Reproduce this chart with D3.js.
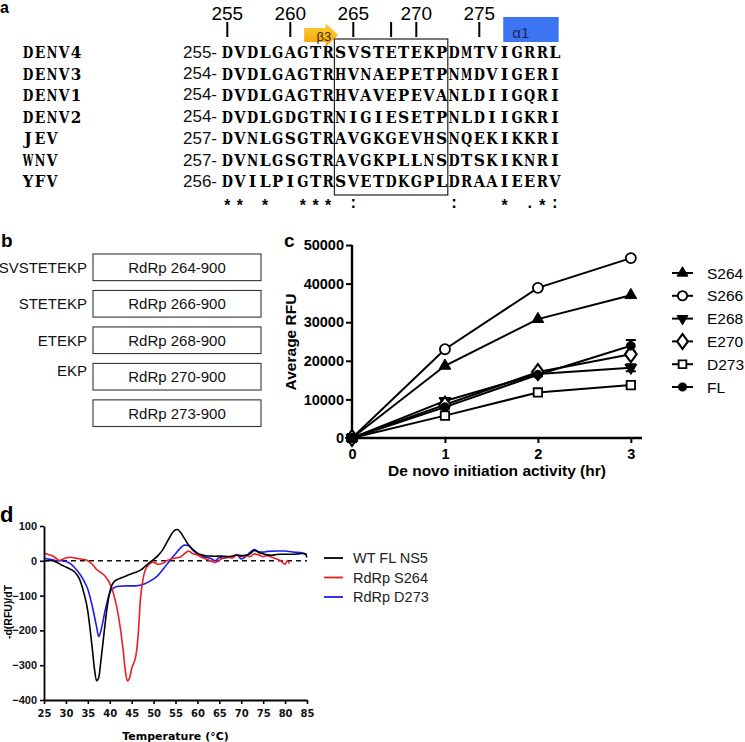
<!DOCTYPE html>
<html><head><meta charset="utf-8">
<script src="https://cdn.jsdelivr.net/npm/d3@7"></script>
<style>
html,body{margin:0;padding:0;background:#fff;}
svg{display:block;}
</style></head>
<body>
<svg id="fig" width="745" height="742"></svg>
<script>
// ---------- Panel a data ----------
const seqNames = ["DENV4","DENV3","DENV1","DENV2","JEV","WNV","YFV"];
const seqStarts = ["255-","254-","254-","254-","257-","257-","256-"];
const sequences = [
  "DVDLGAGTRSVSTETEKPDMTVIGRRL",
  "DVDLGAGTRHVNAEPETPNMDVIGERI",
  "DVDLGAGTRHVAVEPEVANLDIIGQRI",
  "DVDLGDGTRNIGIESETPNLDIIGKRI",
  "DVNLGSGTRAVGKGEVHSNQEKIKKRI",
  "DVNLGSGTRAVGKPLLNSDTSKIKNRI",
  "DVILPIGTRSVETDKGPLDRAAIEERV"
];
const conservation = "** *  *** :       :   * .*:";
const firstResidue = 255;
const tickPositions = [255,260,265,268,270,275];
const tickLabels = ["255","260","265","","270","275"];

// ---------- Panel b data ----------
const constructPrefixes = ["SVSTETEKP","STETEKP","ETEKP","EKP",""];
const constructNames = ["RdRp 264-900","RdRp 266-900","RdRp 268-900","RdRp 270-900","RdRp 273-900"];

// ---------- Panel c data ----------
const hours = [0,1,2,3];
const seriesNames = ["S264","S266","E268","E270","D273","FL"];
const s264 = [0,18700,30800,37000];
const s266 = [0,23000,38900,46600];
const e268 = [0,9600,16600,18200];
const e270 = [0,8600,17100,21700];
const d273 = [0,5800,11800,13700];
const fl   = [0,8000,16400,23900];
const e268Err = [0,500,500,900];
const e270Err = [0,300,400,500];
const d273Err = [0,300,800,400];
const flErr   = [0,400,400,1500];
const cYTicks = [0,10000,20000,30000,40000,50000];
const cXTicks = [0,1,2,3];

// ---------- Panel d data ----------
const dLegend = ["WT FL NS5","RdRp S264","RdRp D273"];
const wtFL = [[25,0],[26,1],[27,0],[28,-5],[29,-12],[30,-18],[31,-24],[32,-32],[33,-50],[34,-88],[35,-145],[35.5,-195],[36,-250],[36.5,-310],[37,-345],[37.5,-335],[38,-285],[38.5,-230],[39,-175],[39.5,-125],[40,-90],[40.5,-70],[41,-60],[42,-52],[43,-47],[44,-42],[45,-37],[46,-33],[47,-27],[48,-17],[49,-6],[50,4],[51,15],[52,30],[53,52],[54,75],[55,89],[55.5,90],[56,84],[57,65],[58,45],[59,32],[60,22],[61,17],[62,14],[63,14],[64,13],[65,14],[66,13],[67,12],[68,14],[69,16],[70,15],[71,16],[72,20],[73,30],[73.5,28],[74,24],[75,20],[76,17],[77,16],[78,18],[79,19],[80,19],[81,19],[82,19],[83,20],[84,21],[84.5,20],[85,10]];
const rdS264 = [[25,22],[26,18],[27,14],[28,5],[28.5,1],[29,3],[30,8],[31,10],[32,8],[33,6],[34,4],[35,0],[36,-10],[37,-25],[38,-34],[39,-45],[40,-65],[41,-100],[42,-160],[43,-250],[43.5,-310],[44,-345],[44.5,-338],[45,-310],[46,-270],[46.5,-210],[47,-110],[47.5,-60],[48,-30],[49,-10],[50,-4],[51,-10],[52,-8],[53,0],[54,5],[55,8],[56,10],[57,20],[58,28],[59,20],[60,17],[61,10],[62,5],[63,0],[64,-5],[65,2],[66,8],[67,10],[68,8],[69,18],[70,12],[71,15],[72,12],[73,20],[74,17],[75,12],[76,15],[77,10],[78,6],[79,0],[80,-10],[80.5,0],[81,-8]];
const rdD273 = [[25,8],[26,5],[27,3],[28,0],[29,0],[30,-2],[31,-8],[32,-20],[33,-35],[34,-55],[35,-82],[36,-130],[37,-190],[37.5,-218],[38,-200],[39,-140],[40,-92],[41,-77],[42,-73],[44,-72],[46,-72],[48,-66],[50,-52],[51,-42],[52,-27],[53,-11],[54,5],[55,20],[56,35],[57,45],[58,44],[59,30],[60,20],[61,12],[62,10],[63,7],[64,0],[65,9],[66,8],[67,10],[68,12],[69,18],[70,5],[71,12],[72,24],[73,32],[74,26],[75,25],[76,27],[78,28],[80,28],[82,25],[84,22],[85,19]];
const dXTicks = d3.range(25,86,5);
const dYTicks = [100,0,-100,-200,-300,-400];

const svg = d3.select("#fig");
const ARIAL = "Liberation Sans, Arial, Helvetica, sans-serif";
const SERIF = "DejaVu Serif, Liberation Serif, serif";

// panel letters
function panelLetter(t,x,y,size){
  svg.append("text").attr("x",x).attr("y",y).text(t)
    .attr("font-family",ARIAL).attr("font-weight","bold").attr("font-size",size);
}
panelLetter("a",0,13,16);
panelLetter("b",1,247,19);
panelLetter("c",284,247,19);
panelLetter("d",0,522,22);

// fixed-pitch glyph writer (Courier-like alignment); wide glyphs squeezed horizontally
function glyph(g,c,cx,y,size,maxW){
  const t = g.append("text").attr("x",0).attr("y",0).attr("text-anchor","middle").text(c)
    .attr("font-family",SERIF).attr("font-weight","bold").attr("font-size",size);
  const w = t.node().getComputedTextLength();
  const sx = w>maxW ? maxW/w : 1;
  t.attr("transform",`translate(${cx},${y}) scale(${sx},1)`);
  return t;
}

// ================= Panel a =================
(function(){
  const nCols = sequences[0].length;
  const col = d3.scaleLinear().domain([0,nCols]).range([221, 221+nCols*12.6]);
  const cw = col(1)-col(0);
  const row = d3.scaleLinear().domain([0,6]).range([58,187]);
  const g = svg.append("g");

  // alpha1 helix box
  g.append("rect").attr("x",col(22.4)).attr("y",17).attr("width",col(26.8)-col(22.4)).attr("height",25)
    .attr("fill","#3d74f2");
  g.append("text").attr("x",col(22.4)+9).attr("y",38).text("α1")
    .attr("font-family",ARIAL).attr("font-size",15).attr("fill","#1b1f5e");

  // beta3 arrow
  const defs = svg.append("defs");
  const gr = defs.append("linearGradient").attr("id","orange").attr("x1",0).attr("y1",0).attr("x2",0).attr("y2",1);
  gr.append("stop").attr("offset","0%").attr("stop-color","#ffcf3d");
  gr.append("stop").attr("offset","100%").attr("stop-color","#f0a300");
  const ax0 = col(6.6), ax1 = col(8.3), ax2 = col(9.3);
  g.append("path").attr("d",`M${ax0},28 L${ax1},28 L${ax1},23 L${ax2},35 L${ax1},47 L${ax1},42 L${ax0},42 Z`)
    .attr("fill","url(#orange)");
  g.append("text").attr("x",col(7.5)+1).attr("y",41).text("β3")
    .attr("font-family",ARIAL).attr("font-size",13).attr("fill","#3a2a00");

  // position ticks
  tickPositions.forEach((p,i)=>{
    const cx = col(p-firstResidue)+cw/2;
    g.append("line").attr("x1",cx).attr("x2",cx).attr("y1",22).attr("y2",37)
      .attr("stroke","#000").attr("stroke-width",2);
    if(tickLabels[i]) g.append("text").attr("x",cx).attr("y",20).attr("text-anchor","middle")
      .text(tickLabels[i]).attr("font-family",ARIAL).attr("font-size",19);
  });

  // box around 264-272 region
  g.append("rect").attr("x",col(9)).attr("y",39).attr("width",col(18)-col(9)).attr("height",156)
    .attr("fill","none").attr("stroke","#222").attr("stroke-width",1.2);

  seqNames.forEach((n,i)=>{
    const y = row(i);
    n.split("").forEach((c,j)=>glyph(g,c,22+6+j*12,y,16,10.6));
    g.append("text").attr("x",217).attr("y",y-(i>=1&&i<=3?1:0)).attr("text-anchor","end").text(seqStarts[i])
      .attr("font-family",ARIAL).attr("font-size",17).attr("fill","#111");
    sequences[i].split("").forEach((c,j)=>glyph(g,c,col(j)+cw/2,y,16,11.2));
  });
  conservation.split("").forEach((c,j)=>{
    if(c===" ") return;
    g.append("text").attr("x",col(j)+cw/2).attr("y",c==="*"?211:208).attr("text-anchor","middle").text(c)
      .attr("font-family","Liberation Mono, monospace").attr("font-weight","bold").attr("font-size",16);
  });
})();

// ================= Panel b =================
(function(){
  const g = svg.append("g");
  const rows = d3.scaleBand().domain(d3.range(constructNames.length)).range([254, 254+5*34.5]).paddingInner(0.27).paddingOuter(0);
  const xb0 = 93, xb1 = 261;
  constructNames.forEach((n,i)=>{
    const y = rows(i), h = rows.bandwidth();
    g.append("rect").attr("x",xb0).attr("y",y).attr("width",xb1-xb0).attr("height",h)
      .attr("fill","#fff").attr("stroke","#333").attr("stroke-width",1.1);
    g.append("text").attr("x",(xb0+xb1)/2).attr("y",y+h/2+5.5).attr("text-anchor","middle").text(n)
      .attr("font-family",ARIAL).attr("font-size",15).attr("fill","#111");
    if(constructPrefixes[i]) g.append("text").attr("x",87).attr("y",y+h/2+5.5-(i===3?6:0)).attr("text-anchor","end")
      .text(constructPrefixes[i]).attr("font-family",ARIAL).attr("font-size",15).attr("fill","#111");
  });
})();

// ================= Panel c =================
(function(){
  const g = svg.append("g");
  const x = d3.scaleLinear().domain([0,3.12]).range([352,642]);
  const y = d3.scaleLinear().domain([0,50000]).range([438,245]);
  const all = [s264,s266,e268,e270,d273,fl];
  const errs = [null,null,e268Err,e270Err,d273Err,flErr];
  const shapes = [d3.symbolTriangle,d3.symbolCircle,"down",d3.symbolDiamond,d3.symbolSquare,d3.symbolCircle];
  const filled = [true,false,true,false,false,true];
  const sizes = [60,80,60,75,70,60];

  function marker(sel,i,cx,cy,scale){
    const s = scale||1;
    const sh = shapes[i];
    let p;
    if(sh==="down"){
      p = sel.append("path").attr("d",d3.symbol(d3.symbolTriangle,sizes[i]*s)())
        .attr("transform",`translate(${cx},${cy}) rotate(180)`);
    } else {
      const dm = sh===d3.symbolDiamond;
      p = sel.append("path").attr("d",d3.symbol(sh,sizes[i]*s)())
        .attr("transform",`translate(${cx},${cy})`+(dm?" scale(1.25,1)":""));
    }
    p.attr("fill",filled[i]?"#000":"#fff").attr("stroke","#000").attr("stroke-width",filled[i]?1:1.8);
  }

  // axes
  const yAxis = d3.axisLeft(y).tickValues(cYTicks).tickSize(6).tickFormat(d3.format("d"));
  const ya = g.append("g").attr("transform",`translate(${x(0)},0)`).call(yAxis);
  const xAxis = d3.axisBottom(x).tickValues(cXTicks).tickSize(5).tickFormat(d3.format("d"));
  const xa = g.append("g").attr("transform",`translate(0,${y(0)})`).call(xAxis);
  [ya,xa].forEach(a=>{
    a.select(".domain").attr("stroke","#000").attr("stroke-width",2.4);
    a.selectAll(".tick line").attr("stroke","#000").attr("stroke-width",2);
    a.selectAll("text").attr("font-family",ARIAL).attr("font-weight","bold").attr("font-size",14.5).attr("fill","#000");
  });
  ya.select(".domain").attr("d",`M-0,${y(50000)}V${y(0)}`);
  xa.select(".domain").attr("d",`M${x(0)},0H${x(3.12)}`);
  xa.selectAll("text").attr("dy","0.9em");
  ya.selectAll("text").attr("x",-8);

  g.append("text").attr("transform",`translate(296,342) rotate(-90)`).attr("text-anchor","middle")
    .text("Average RFU").attr("font-family",ARIAL).attr("font-weight","bold").attr("font-size",15.5);
  g.append("text").attr("x",(x(0)+x(3.12))/2).attr("y",476).attr("text-anchor","middle")
    .text("De novo initiation activity (hr)").attr("font-family",ARIAL).attr("font-weight","bold").attr("font-size",15.5);

  const line = d3.line().x((d,i)=>x(hours[i])).y(d=>y(d));
  all.forEach((s,i)=>{
    g.append("path").attr("d",line(s)).attr("fill","none").attr("stroke","#000").attr("stroke-width",2);
  });
  all.forEach((s,i)=>{
    if(errs[i]) s.forEach((v,k)=>{
      const e = errs[i][k]; if(!e) return;
      const cx = x(hours[k]);
      g.append("path").attr("d",`M${cx-5},${y(v+e)}H${cx+5}M${cx},${y(v+e)}V${y(v-e)}M${cx-5},${y(v-e)}H${cx+5}`)
        .attr("stroke","#000").attr("stroke-width",2).attr("fill","none");
    });
  });
  all.forEach((s,i)=>{
    s.forEach((v,k)=>marker(g,i,x(hours[k]),y(v)));
  });

  // legend
  const ly = d3.scaleLinear().domain([0,5]).range([273,387]);
  seriesNames.forEach((n,i)=>{
    const yy = ly(i);
    g.append("line").attr("x1",672).attr("x2",693).attr("y1",yy).attr("y2",yy).attr("stroke","#000").attr("stroke-width",2);
    marker(g,i,682.5,yy,0.85);
    g.append("text").attr("x",707).attr("y",yy+5.5).text(n).attr("font-family",ARIAL).attr("font-size",15.5);
  });
})();

// ================= Panel d =================
(function(){
  const g = svg.append("g");
  const x = d3.scaleLinear().domain([25,85]).range([44,307]);
  const y = d3.scaleLinear().domain([-400,100]).range([700,526]);

  g.append("line").attr("x1",x(25)).attr("x2",x(85)).attr("y1",y(0)).attr("y2",y(0))
    .attr("stroke","#111").attr("stroke-width",1.6).attr("stroke-dasharray","5,4");

  const line = d3.line().x(d=>x(d[0])).y(d=>y(d[1])).curve(d3.curveMonotoneX);
  const series = [[wtFL,"#000"],[rdS264,"#ee1c24"],[rdD273,"#1c1cf0"]];
  [series[2],series[1],series[0]].forEach(([data,c])=>{
    g.append("path").attr("d",line(data)).attr("fill","none").attr("stroke",c).attr("stroke-width",1.6);
  });

  const xa = g.append("g").attr("transform",`translate(0,${y(-400)})`)
    .call(d3.axisBottom(x).tickValues(dXTicks).tickSize(4).tickSizeOuter(0));
  const ya = g.append("g").attr("transform",`translate(${x(25)},0)`)
    .call(d3.axisLeft(y).tickValues(dYTicks).tickSize(4).tickSizeOuter(0));
  [xa,ya].forEach(a=>{
    a.select(".domain").attr("stroke","#000").attr("stroke-width",1.8);
    a.selectAll(".tick line").attr("stroke","#000").attr("stroke-width",1.6);
  });
  xa.selectAll("text").attr("font-family","DejaVu Sans, Verdana, sans-serif").attr("font-weight","bold")
    .attr("font-size",10).attr("fill","#111").attr("dy","0.95em");
  ya.selectAll("text").attr("font-family",ARIAL).attr("font-weight","bold").attr("font-size",11).attr("fill","#111");

  g.append("text").attr("x",(x(25)+x(85))/2).attr("y",740).attr("text-anchor","middle")
    .text("Temperature (°C)").attr("font-family","DejaVu Sans, Verdana, sans-serif").attr("font-weight","bold").attr("font-size",11);
  g.append("text").attr("transform","translate(12,612) rotate(-90)").attr("text-anchor","middle")
    .text("-d(RFU)/dT").attr("font-family",ARIAL).attr("font-weight","bold").attr("font-size",10.5);

  const ly = d3.scaleLinear().domain([0,2]).range([558,597]);
  dLegend.forEach((n,i)=>{
    const yy = ly(i);
    g.append("line").attr("x1",324).attr("x2",343).attr("y1",yy).attr("y2",yy).attr("stroke",series[i][1]).attr("stroke-width",1.8);
    g.append("text").attr("x",353).attr("y",yy+5).text(n).attr("font-family",ARIAL).attr("font-size",14.5).attr("fill","#222");
  });
})();
</script>
</body></html>
